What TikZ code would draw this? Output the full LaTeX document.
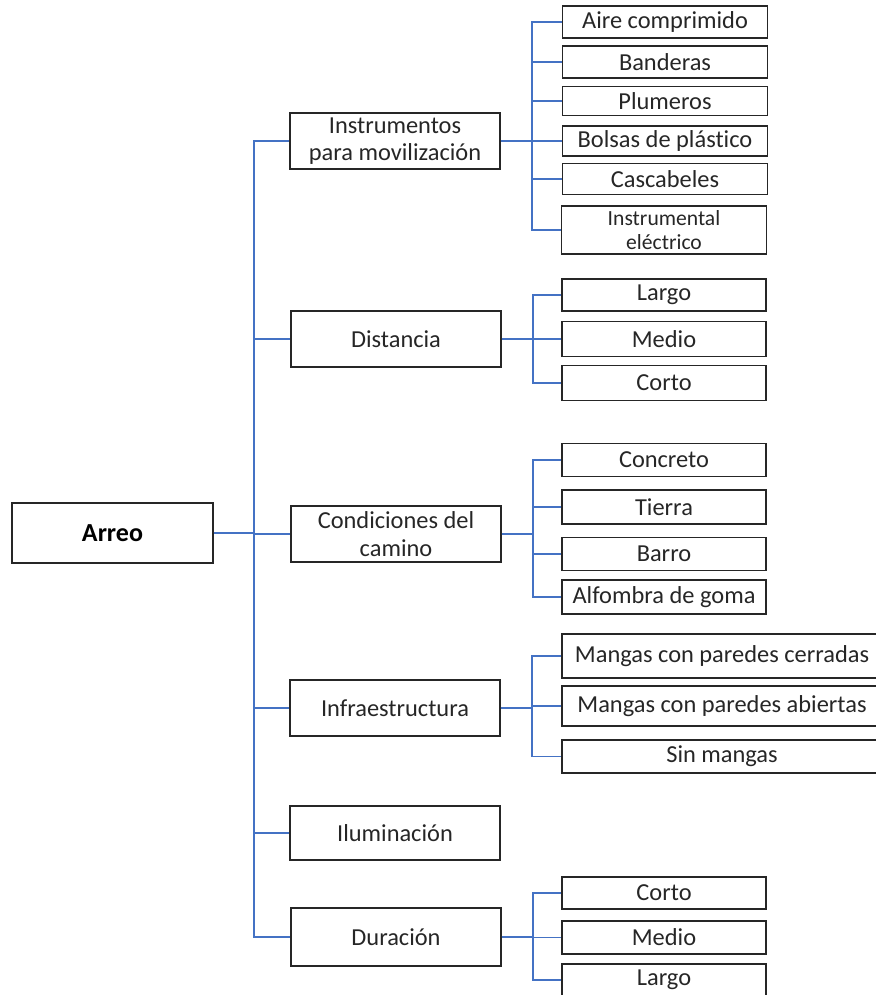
\documentclass[tikz,border=0pt]{standalone}
\usepackage{fontspec}
\setmainfont{Carlito}[Ligatures={NoCommon}]
\definecolor{linkblue}{RGB}{68,114,196}

\begin{document}
\begin{tikzpicture}[x=0.5pt,y=-0.5pt,
		root/.style={draw=black!85,line width=0.9pt,minimum width=100.5pt,minimum height=30pt,inner sep=1pt,font=\fontsize{13}{15}\selectfont\bfseries},
		box/.style={draw=black!85,line width=0.9pt,minimum width=105pt,minimum height=28pt,align=center,inner sep=1pt,text=black!85,font=\fontsize{12.2}{13.8}\selectfont},
		leaf/.style={draw=black!85,line width=0.9pt,minimum width=102.5pt,minimum height=16pt,align=center,inner sep=1pt,text=black!85,font=\fontsize{12.2}{14}\selectfont},
		link/.style={draw=linkblue,line width=0.9pt},
		stem/.style={draw=linkblue,line width=1.4pt}]
		\clip (0,0) rectangle (876,995);
		\useasboundingbox (0,0) rectangle (876,995);
		
		% Root and first level.
		\node[root] (arreo) at (112.5,533) {Arreo};
		\node[box] (instr) at (395,141) {Instrumentos\\para movilización};
		\node[box] (dist) at (396,339) {Distancia};
		\node[box] (cond) at (396,534) {Condiciones del\\camino};
		\node[box] (infra) at (395,708) {Infraestructura};
		\node[box,minimum height=27pt] (ilum) at (395,833) {Iluminación};
		\node[box,minimum height=29pt] (dur) at (396,937) {Duración};
		
		% Instruments.
		\node[leaf] (aire) at (665,22) {Aire comprimido};
		\node[leaf] (band) at (665,62) {Banderas};
		\node[leaf,minimum height=14.5pt] (plum) at (665,101) {Plumeros};
		\node[leaf,minimum height=15pt] (bolsa) at (665,141) {Bolsas de plástico};
		\node[leaf,minimum height=15.5pt] (casc) at (665,179) {Cascabeles};
		\node[leaf,minimum height=24pt,font=\fontsize{10.8}{12}\selectfont] (elec) at (664,230) {Instrumental\\eléctrico};
		
		% Distance.
		\node[leaf,minimum width=102pt] (distL) at (664,295) {Largo};
		\node[leaf,minimum width=102pt,minimum height=17.5pt] (distM) at (664,339) {Medio};
		\node[leaf,minimum width=102pt,minimum height=17.5pt] (distC) at (664,383) {Corto};
		
		% Road conditions.
		\node[leaf,minimum width=102pt,minimum height=16.5pt] (concreto) at (664,460) {Concreto};
		\node[leaf,minimum width=102pt,minimum height=17pt] (tierra) at (664,507) {Tierra};
		\node[leaf,minimum width=102pt,minimum height=16.5pt] (barro) at (664,554) {Barro};
		\node[leaf,minimum width=102pt,minimum height=17pt] (alfombra) at (664,597) {Alfombra de goma};
		
		% Infrastructure.
		\node[leaf,minimum width=160pt,minimum height=22pt] (cerradas) at (722,656) {Mangas con paredes cerradas};
		\node[leaf,minimum width=160pt,minimum height=20pt] (abiertas) at (722,706) {Mangas con paredes abiertas};
		\node[leaf,minimum width=160pt,minimum height=16.5pt] (sinmangas) at (722,756.5) {Sin mangas};
		
		% Duration.
		\node[leaf,minimum width=102pt] (durC) at (664,893) {Corto};
		\node[leaf,minimum width=102pt,minimum height=16.5pt] (durM) at (664,937.5) {Medio};
		\node[leaf,minimum width=102pt] (durL) at (664,980) {Largo};
		
		% Connectors.
		\foreach \c in {instr,dist,cond,infra,ilum,dur}
			\draw[link,line width=1pt] (arreo.east) -- ++(40,0) |- (\c.west);
		\draw[stem] (arreo.east) -- ++(40,0);
		\foreach \c in {aire,band,plum,bolsa,casc,elec}
			\draw[link] (instr.east) -- ++(31,0) |- (\c.west);
		\draw[stem] (instr.east) -- ++(31,0);
		\foreach \c in {distL,distM,distC}
			\draw[link] (dist.east) -- ++(31,0) |- (\c.west);
		\draw[stem] (dist.east) -- ++(31,0);
		\foreach \c in {concreto,tierra,barro,alfombra}
			\draw[link] (cond.east) -- ++(31,0) |- (\c.west);
		\draw[stem] (cond.east) -- ++(31,0);
		\foreach \c in {cerradas,abiertas,sinmangas}
			\draw[link] (infra.east) -- ++(31,0) |- (\c.west);
		\draw[stem] (infra.east) -- ++(31,0);
		\foreach \c in {durC,durM,durL}
			\draw[link] (dur.east) -- ++(31,0) |- (\c.west);
		\draw[stem] (dur.east) -- ++(31,0);
	\end{tikzpicture}
\end{document}
